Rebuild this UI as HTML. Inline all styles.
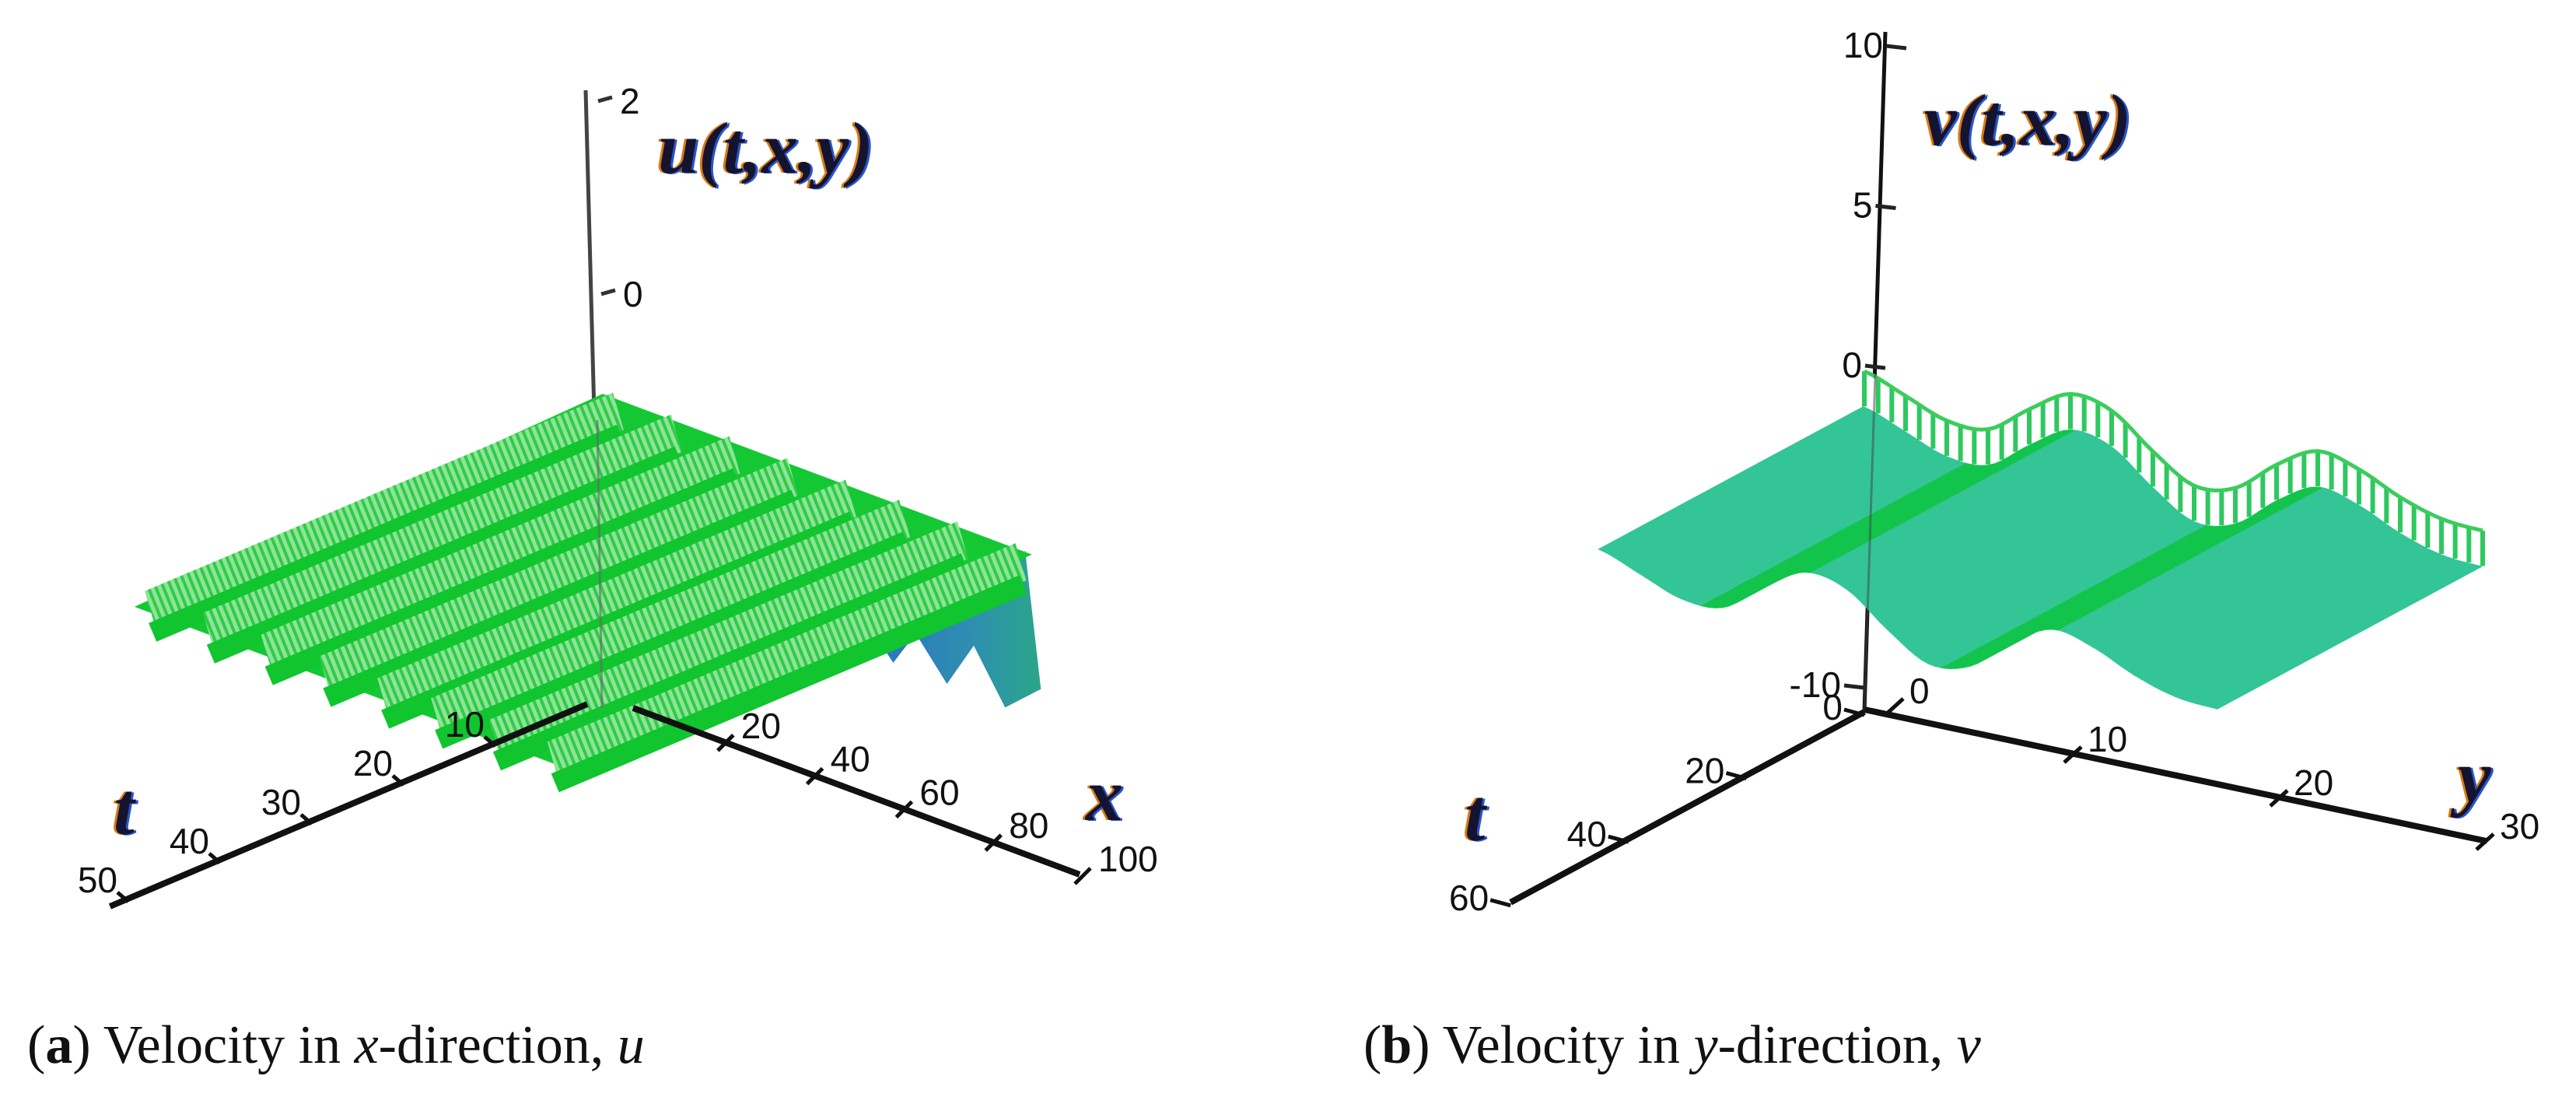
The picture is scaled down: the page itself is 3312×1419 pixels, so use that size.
<!DOCTYPE html>
<html><head><meta charset="utf-8"><style>
html,body{margin:0;padding:0;background:#fff;}
svg{display:block;}
.tick{font-family:"Liberation Sans",sans-serif;font-size:46px;fill:#111;}
.cap{font-family:"Liberation Serif",serif;font-size:70px;fill:#111;}
.lab{font-family:"Liberation Serif",serif;font-weight:bold;font-style:italic;}
</style></head><body>
<svg id="fig" width="3312" height="1419" viewBox="0 0 3312 1419" xmlns="http://www.w3.org/2000/svg">
<defs>
<pattern id="hatchA" width="9" height="9" patternUnits="userSpaceOnUse" patternTransform="rotate(-22)">
<rect width="9" height="9" fill="#8fe39a"/><rect width="4" height="9" fill="#2fcc45"/></pattern>
<linearGradient id="blueG" x1="0" y1="0" x2="1" y2="0">
<stop offset="0" stop-color="#2b74c0"/><stop offset="0.6" stop-color="#2f8fb0"/><stop offset="1" stop-color="#2aa68a"/></linearGradient>
</defs>
<g id="panelA"></g>
<g id="panelB"></g>
<text class="cap" x="35" y="1366">(<tspan font-weight="bold">a</tspan>) Velocity in <tspan font-style="italic">x</tspan>-direction, <tspan font-style="italic">u</tspan></text>
<text class="cap" x="1753" y="1366">(<tspan font-weight="bold">b</tspan>) Velocity in <tspan font-style="italic">y</tspan>-direction, <tspan font-style="italic">v</tspan></text>
</svg>
<script>
// ---- Panel A data ----
const aTTicks = [10,20,30,40,50];
const aXTicks = [20,40,60,80,100];
const aZTicks = [2,0];
const aRidgeX = [0,13,26,39,52,64,77,90];
const aBlueX = [57,62,67,74,80,87,95,91.5,57];
const aBlueU = [-1.35,-1.61,-1.22,-1.62,-1.12,-1.64,-1.31,0.06,-1.15];
// ---- Panel B data ----
const bTTicks = [20,40,60];
const bYTicks = [0,10,20,30];
const bZTicks = [10,5,0,-10];
const bProfileY = [0,2,4,6,8,10,12,14,16,18,20,22,24,26,28,30];
const bProfileV = [-0.1,-0.6,-1.1,-1.1,-0.2,0.55,0.3,-0.7,-1.5,-1.3,-0.3,0.4,0.1,-0.5,-0.9,-1.0];

const NS='http://www.w3.org/2000/svg';
function mk(parent,tag,attrs){const e=document.createElementNS(NS,tag);for(const k in attrs)e.setAttribute(k,attrs[k]);parent.appendChild(e);return e;}
function pts(a){return a.map(p=>p[0].toFixed(1)+','+p[1].toFixed(1)).join(' ');}

// ===== Panel A =====
const A=document.getElementById('panelA');
const aTpos=t=>[755-11.8*t,905+5.0*t];
const aXpos=x=>[814+5.74*x,910+2.14*x];
const aZpos=z=>[773-2*(z),378-124*z];
const aP=(t,x,u)=>[792-11.8*t+5.75*x,519+5.0*t+2.15*x-124*u];

let e;
e=mk(A,'line',{x1:753,y1:116,x2:774,y2:910,stroke:'#444','stroke-width':5});

aZTicks.forEach(z=>{const p=aZpos(z);
 e=mk(A,'line',{x1:p[0],y1:p[1],x2:p[0]+18,y2:p[1]-5,stroke:'#333','stroke-width':5});
 
 e=mk(A,'text',{x:p[0]+28,y:p[1]+16,class:'tick'});e.textContent=z;
 });
e=mk(A,'polygon',{points:pts(aBlueX.map((x,i)=>aP(0,x,aBlueU[i]))),fill:'url(#blueG)'});

e=mk(A,'polygon',{points:pts([aP(0,-3,0.05),aP(0,93,0.05),aP(51,93,-0.1),aP(51,-3,-0.1)]),fill:'#14c834'});

aRidgeX.forEach((x,i)=>{
 const a=aP(0,x,0.05),b=aP(51,x,0.05);
 e=mk(A,'polygon',{points:pts([[a[0]-4,a[1]-8],[a[0]+10,a[1]+40],[b[0]+10,b[1]+40],[b[0]-4,b[1]-8]]),fill:'url(#hatchA)'});
 
 e=mk(A,'line',{x1:a[0]+6,y1:a[1]+45,x2:b[0]+6,y2:b[1]+45,stroke:'#10c52e','stroke-width':26});
 
});
e=mk(A,'line',{x1:768,y1:540,x2:774,y2:910,stroke:'#666','stroke-width':3,opacity:0.6});

const t0=aTpos(0),t50=aTpos(52);
e=mk(A,'line',{x1:t0[0],y1:t0[1],x2:t50[0],y2:t50[1],stroke:'#111','stroke-width':8});

aTTicks.forEach(t=>{const p=aTpos(t);
 e=mk(A,'line',{x1:p[0]-14,y1:p[1]-8,x2:p[0],y2:p[1]+4,stroke:'#111','stroke-width':5});
 
 e=mk(A,'text',{x:p[0]-14,y:p[1]-8,class:'tick','text-anchor':'end'});e.textContent=t;
 });
const x0=aXpos(0),x100=aXpos(100);
e=mk(A,'line',{x1:x0[0],y1:x0[1],x2:x100[0],y2:x100[1],stroke:'#111','stroke-width':8});

aXTicks.forEach(x=>{const p=aXpos(x);
 e=mk(A,'line',{x1:p[0]-6,y1:p[1]+12,x2:p[0]+14,y2:p[1]-8,stroke:'#111','stroke-width':5});
 
 e=mk(A,'text',{x:p[0]+24,y:p[1]-4,class:'tick'});e.textContent=x;
 });
function axisLabel(g,x,y,txt,size,name){
 [['#d97a10',-3,0],['#2a55c8',3,1],['#141430',0,0]].forEach(c=>{
  e=mk(g,'text',{x:x+c[1],y:y+c[2],class:'lab','font-size':size,fill:c[0]});e.textContent=txt;
  });
}
axisLabel(A,846,222,'u(t,x,y)',94,'u-axis-title');
axisLabel(A,146,1072,'t',96,'t-axis-title');
axisLabel(A,1396,1054,'x',96,'x-axis-title');

// ===== Panel B =====
const B=document.getElementById('panelB');
const bO=[2397,915];
const bTpos=t=>[bO[0]-7.58*t,bO[1]+4.08*t];
const bYpos=y=>[bO[0]+26.5*y,bO[1]-3+5.6*y];
const bZpos=z=>[2397+2.7*(z+10),884-41.1*(z+10)];
const bP=(t,y,v)=>[2397+26.5*y-7.58*t,473+5.6*y+4.08*t-41.1*v];
e=mk(B,'line',{x1:2424,y1:41,x2:2397,y2:915,stroke:'#111','stroke-width':5});

bZTicks.forEach(z=>{const p=bZpos(z);
 e=mk(B,'line',{x1:p[0]-26,y1:p[1]-3,x2:p[0],y2:p[1],stroke:'#222','stroke-width':5});
 
 e=mk(B,'text',{x:p[0]-30,y:p[1]+12,class:'tick','text-anchor':'end'});e.textContent=z;
 });
function smooth(xs,vs,n){const out=[];for(let i=0;i<xs.length-1;i++){
 const p0=vs[Math.max(i-1,0)],p1=vs[i],p2=vs[i+1],p3=vs[Math.min(i+2,vs.length-1)];
 for(let k=0;k<n;k++){const s=k/n;
  const v=0.5*((2*p1)+(-p0+p2)*s+(2*p0-5*p1+4*p2-p3)*s*s+(-p0+3*p1-3*p2+p3)*s*s*s);
  out.push([xs[i]+(xs[i+1]-xs[i])*s,v]);}}
 out.push([xs[xs.length-1],vs[vs.length-1]]);return out;}
const prof=smooth(bProfileY,bProfileV,6);
const TH=1.1,TMAX=45;
for(let i=0;i<prof.length-1;i++){
 const [y1,v1]=prof[i],[y2,v2]=prof[i+1];
 const col=(v2>v1)?'#12c44c':'#33c596';
 e=mk(B,'polygon',{points:pts([bP(0,y1,v1-TH),bP(0,y2,v2-TH),bP(TMAX,y2,v2-TH),bP(TMAX,y1,v1-TH)]),fill:col,stroke:col,'stroke-width':1.5});
 
}
for(let i=0;i<prof.length-1;i++){
 const [y1,v1]=prof[i],[y2,v2]=prof[i+1];
 e=mk(B,'polygon',{points:pts([bP(0,y1,v1),bP(0,y2,v2),bP(0,y2,v2-TH),bP(0,y1,v1-TH)]),fill:'#fff',stroke:'#fff','stroke-width':1});
 
}
prof.forEach((p,i)=>{if(i%2)return;const a=bP(0,p[0],p[1]),b=bP(0,p[0],p[1]-TH);
 e=mk(B,'line',{x1:a[0],y1:a[1],x2:b[0],y2:b[1],stroke:'#2ec860','stroke-width':6});
 });
e=mk(B,'polyline',{points:pts(prof.map(p=>bP(0,p[0],p[1]))),fill:'none',stroke:'#3acd5c','stroke-width':5});

e=mk(B,'line',{x1:2411,y1:480,x2:2397,y2:915,stroke:'#444','stroke-width':3,opacity:0.5});

const bt0=bTpos(0),bt60=bTpos(60);
e=mk(B,'line',{x1:bt0[0],y1:bt0[1],x2:bt60[0],y2:bt60[1],stroke:'#111','stroke-width':8});

[0].concat(bTTicks).forEach(t=>{const p=bTpos(t);
 e=mk(B,'line',{x1:p[0]-26,y1:p[1]-3,x2:p[0],y2:p[1]+4,stroke:'#111','stroke-width':5});
 
 e=mk(B,'text',{x:p[0]-28,y:p[1]+10,class:'tick','text-anchor':'end'});e.textContent=t;
 });
const by0=bYpos(0),by30=bYpos(30.2);
e=mk(B,'line',{x1:by0[0],y1:by0[1],x2:by30[0],y2:by30[1],stroke:'#111','stroke-width':8});

bYTicks.forEach(y=>{const p=bYpos(y);const px=p[0]+(y===0?36:0);const py=p[1]+(y===0?-6:0);
 e=mk(B,'line',{x1:px-8,y1:py+12,x2:px+14,y2:py-8,stroke:'#111','stroke-width':5});
 
 e=mk(B,'text',{x:px+22,y:py-2,class:'tick'});e.textContent=y;
 });
axisLabel(B,2474,186,'v(t,x,y)',94,'v-axis-title');
axisLabel(B,1883,1080,'t',96,'t-axis-title-b');
axisLabel(B,3160,1030,'y',96,'y-axis-title');
</script>
</body></html>
